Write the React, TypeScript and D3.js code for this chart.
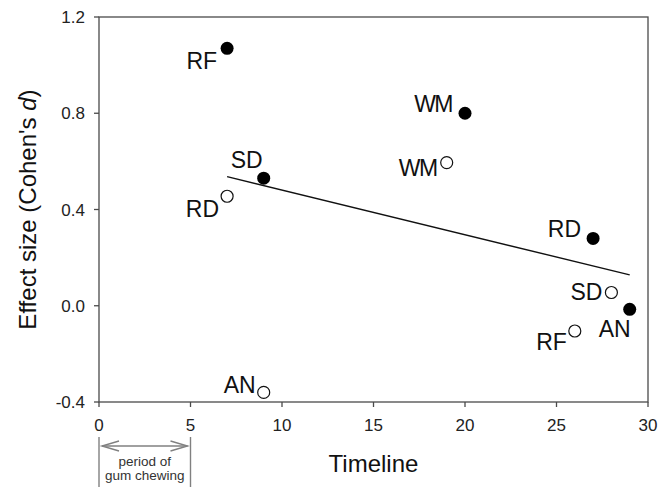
import * as d3 from 'd3';

// chewing-gum effect sizes over the timeline
const filledLabels = ['RF', 'SD', 'WM', 'RD', 'AN'];
const filledTime = [7, 9, 20, 27, 29];
const filledEffect = [1.07, 0.53, 0.8, 0.28, -0.015];

const openLabels = ['RD', 'AN', 'WM', 'RF', 'SD'];
const openTime = [7, 9, 19, 26, 28];
const openEffect = [0.455, -0.36, 0.595, -0.105, 0.055];

const xTicks = [0, 5, 10, 15, 20, 25, 30];
const yTicks = [-0.4, 0, 0.4, 0.8, 1.2];
const yTickLabels = ['-0.4', '0.0', '0.4', '0.8', '1.2'];

const gumPeriod = [0, 5];

const W = 669;
const H = 487;
const margin = { left: 99, right: 21, top: 17, bottom: 85 };
const font = '"Liberation Sans", Arial, sans-serif';
const axisColor = '#4a4a4a';

// label offsets (px) from the marker: [dx, dy, anchor]
const filledPlace: [number, number, string][] = [
  [-10, 21, 'end'],
  [-1, -10, 'end'],
  [-13, -1, 'end'],
  [-12, -1, 'end'],
  [-31, 28, 'start'],
];
const openPlace: [number, number, string][] = [
  [-8, 21, 'end'],
  [-8, 1, 'end'],
  [-10, 13, 'end'],
  [-8, 19, 'end'],
  [-9, 7, 'end'],
];

export default function App() {
  const x = d3.scaleLinear().domain([0, 30]).range([margin.left, W - margin.right]);
  const y = d3.scaleLinear().domain([-0.4, 1.2]).range([H - margin.bottom, margin.top]);

  // least squares fit over both series
  const xs = [...filledTime, ...openTime];
  const ys = [...filledEffect, ...openEffect];
  const mx = d3.mean(xs)!;
  const my = d3.mean(ys)!;
  const sxy = d3.sum(xs, (v, i) => (v - mx) * (ys[i] - my));
  const sxx = d3.sum(xs, (v) => (v - mx) * (v - mx));
  const slope = sxy / sxx;
  const fitX = [d3.min(xs)!, d3.max(xs)!];
  const fitLine = d3
    .line<number>()
    .x((t) => x(t))
    .y((t) => y(my + slope * (t - mx)))(fitX);

  const x0 = x.range()[0];
  const x1 = x.range()[1];
  const y0 = y.range()[0];
  const y1 = y.range()[1];

  const px0 = x(gumPeriod[0]);
  const px1 = x(gumPeriod[1]);
  const arrowY = 446;

  return (
    <svg
      width={W}
      height={H}
      style={{ position: 'absolute', left: 0, top: 0, background: '#fff' }}
      fontFamily={font}
    >
      {/* frame */}
      <rect x={x0} y={y1} width={x1 - x0} height={y0 - y1} fill="none" stroke={axisColor} strokeWidth={1.3} />

      {/* y axis */}
      {yTicks.map((t, i) => (
        <g key={'y' + t}>
          <line x1={x0 - 5} x2={x0} y1={y(t)} y2={y(t)} stroke={axisColor} strokeWidth={1.3} />
          <text x={x0 - 14} y={y(t)} dy="0.36em" textAnchor="end" fontSize={17} fill="#222">
            {yTickLabels[i]}
          </text>
        </g>
      ))}

      {/* x axis */}
      {xTicks.map((t) => (
        <g key={'x' + t}>
          <line x1={x(t)} x2={x(t)} y1={y0} y2={y0 + 5} stroke={axisColor} strokeWidth={1.3} />
          <text x={x(t)} y={y0 + 29} textAnchor="middle" fontSize={17} fill="#222">
            {t}
          </text>
        </g>
      ))}

      <text x={(x0 + x1) / 2} y={472} textAnchor="middle" fontSize={24} fill="#111">
        Timeline
      </text>
      <text
        transform={`translate(36,${(y0 + y1) / 2}) rotate(-90)`}
        textAnchor="middle"
        fontSize={24}
        fill="#111"
      >
        Effect size (Cohen's <tspan fontStyle="italic">d</tspan>)
      </text>

      {/* period of gum chewing */}
      <g stroke="#808080" strokeWidth={1.4} fill="none">
        <line x1={px0} x2={px0} y1={437} y2={H} />
        <line x1={px1} x2={px1} y1={437} y2={H} />
        <line x1={px0 + 3} x2={px1 - 3} y1={arrowY} y2={arrowY} />
        <path d={`M${px0 + 20},${arrowY - 5}L${px0 + 3},${arrowY}L${px0 + 20},${arrowY + 5}`} />
        <path d={`M${px1 - 20},${arrowY - 5}L${px1 - 3},${arrowY}L${px1 - 20},${arrowY + 5}`} />
      </g>
      <text x={(px0 + px1) / 2} y={466} textAnchor="middle" fontSize={13.5} fill="#333">
        period of
      </text>
      <text x={(px0 + px1) / 2} y={480} textAnchor="middle" fontSize={13.5} fill="#333">
        gum chewing
      </text>

      {/* regression line */}
      <path d={fitLine ?? ''} stroke="#111" strokeWidth={1.4} fill="none" />

      {/* open markers */}
      {openTime.map((t, i) => (
        <g key={'o' + i}>
          <circle cx={x(t)} cy={y(openEffect[i])} r={6} fill="#fff" stroke="#111" strokeWidth={1.2} />
          <text
            x={x(t) + openPlace[i][0]}
            y={y(openEffect[i]) + openPlace[i][1]}
            textAnchor={openPlace[i][2]}
            fontSize={23}
            fill="#111"
            letterSpacing={i === 2 ? -1.5 : 0}
          >
            {openLabels[i]}
          </text>
        </g>
      ))}

      {/* filled markers */}
      {filledTime.map((t, i) => (
        <g key={'f' + i}>
          <circle cx={x(t)} cy={y(filledEffect[i])} r={6.5} fill="#000" />
          <text
            x={x(t) + filledPlace[i][0]}
            y={y(filledEffect[i]) + filledPlace[i][1]}
            textAnchor={filledPlace[i][2]}
            fontSize={23}
            fill="#111"
            letterSpacing={i === 2 ? -1.5 : 0}
          >
            {filledLabels[i]}
          </text>
        </g>
      ))}
    </svg>
  );
}
